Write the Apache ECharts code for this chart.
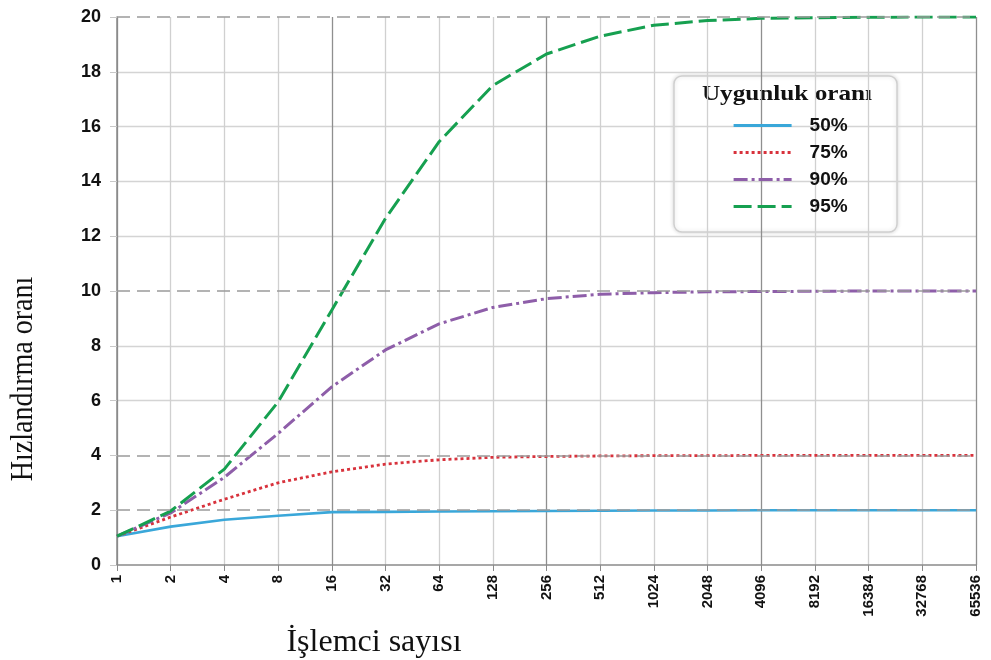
<!DOCTYPE html>
<html><head><meta charset="utf-8">
<script src="https://cdn.jsdelivr.net/npm/echarts@6/dist/echarts.min.js"></script>
<style>html,body{margin:0;padding:0;background:#fff}#c{width:991px;height:660px}</style>
</head><body><div id="c"></div>
<script>
const categories = ['1','2','4','8','16','32','64','128','256','512','1024','2048','4096','8192','16384','32768','65536'];
const s50 = [1.05,1.4,1.65,1.8,1.93,1.94,1.95,1.96,1.97,1.98,1.99,1.99,2,2,2,2,2];
const s75 = [1.05,1.75,2.4,3.0,3.4,3.68,3.84,3.93,3.96,3.98,3.99,3.99,4,4,4,4,4];
const s90 = [1.05,1.9,3.2,4.8,6.5,7.85,8.8,9.4,9.72,9.88,9.94,9.97,9.98,9.99,10,10,10];
const s95 = [1.05,1.97,3.5,5.95,9.3,12.65,15.45,17.5,18.65,19.3,19.7,19.87,19.95,19.97,19.99,20,20];
const yTicks = [0,2,4,6,8,10,12,14,16,18,20];
const dashedLevels = [2,4,10,20];
const seriesNames = ['50%','75%','90%','95%'];

const chart = echarts.init(document.getElementById('c'));
const mk = (name, data, color, type, width) => ({
  name, type:'line', data, symbol:'none', smooth:false,
  lineStyle:{color, width, type}, itemStyle:{color}
});
const ySplitColors = yTicks.map(v => v===0 ? 'transparent' : (dashedLevels.includes(v) ? 'transparent' : '#d4d4d4'));
const s0 = mk(seriesNames[0], s50, '#3aa7d9', 'solid', 2.6);
s0.markLine = {
  silent:true, symbol:'none', label:{show:false},
  lineStyle:{color:'#9a9a9a', type:[13,7], width:1.5},
  data: dashedLevels.map(v => ({yAxis:v}))
};
chart.setOption({
  animation:false,
  backgroundColor:'#fff',
  grid:{left:117, right:15, top:17, bottom:95, containLabel:false},
  xAxis:{
    type:'category', data:categories, boundaryGap:false,
    axisLine:{lineStyle:{color:'#8a8a8a', width:1.5}},
    axisTick:{show:true, length:6, lineStyle:{color:'#8a8a8a'}},
    axisLabel:{rotate:90, margin:10, fontFamily:'Liberation Sans', fontWeight:'bold', fontSize:15, color:'#111'},
    splitLine:{show:true, lineStyle:{color:['#8f8f8f','#d0d0d0','#d0d0d0','#d0d0d0'], width:1.3}}
  },
  yAxis:{
    type:'value', min:0, max:20, interval:2,
    axisLine:{show:true, lineStyle:{color:'#8a8a8a', width:1.5}},
    axisTick:{show:true, length:7, lineStyle:{color:'#c8c8c8'}},
    axisLabel:{margin:16, fontFamily:'Liberation Sans', fontWeight:'bold', fontSize:18, color:'#111'},
    splitLine:{show:true, lineStyle:{color:ySplitColors, width:1.3}}
  },
  legend:{
    orient:'vertical', left:727, top:111, itemWidth:58, itemHeight:14, itemGap:8,
    data:seriesNames,
    itemStyle:{opacity:0},
    lineStyle:{width:3.2},
    textStyle:{fontFamily:'Liberation Sans', fontWeight:'bold', fontSize:19, color:'#111', padding:[0,0,0,13]}
  },
  graphic:[
    {type:'rect', z:-1, shape:{x:674, y:76, width:223, height:156, r:8},
     style:{fill:'#fff', stroke:'#cfcfcf', lineWidth:1.5, shadowBlur:4, shadowColor:'rgba(0,0,0,0.15)'}},
    {type:'text', x:787, y:95, scaleX:1.2, style:{text:'Uygunluk oranı', x:0, y:0, align:'center', verticalAlign:'middle',
      font:'bold 21px "Liberation Serif"', fill:'#111'}},
    {type:'text', x:374, y:643, style:{text:'İşlemci sayısı', x:0, y:0, align:'center', verticalAlign:'middle',
      font:'32px "Liberation Serif"', fill:'#111'}},
    {type:'text', rotation:Math.PI/2, x:24, y:379, scaleX:0.875, style:{text:'Hızlandırma oranı', x:0, y:0, align:'center', verticalAlign:'middle',
      font:'32px "Liberation Serif"', fill:'#111'}}
  ],
  series:[
    s0,
    mk(seriesNames[1], s75, '#d8323c', [3,3], 2.8),
    mk(seriesNames[2], s90, '#8e5ea9', [14,4,3,4], 3),
    mk(seriesNames[3], s95, '#16a050', [18,6], 3)
  ]
});
</script></body></html>
